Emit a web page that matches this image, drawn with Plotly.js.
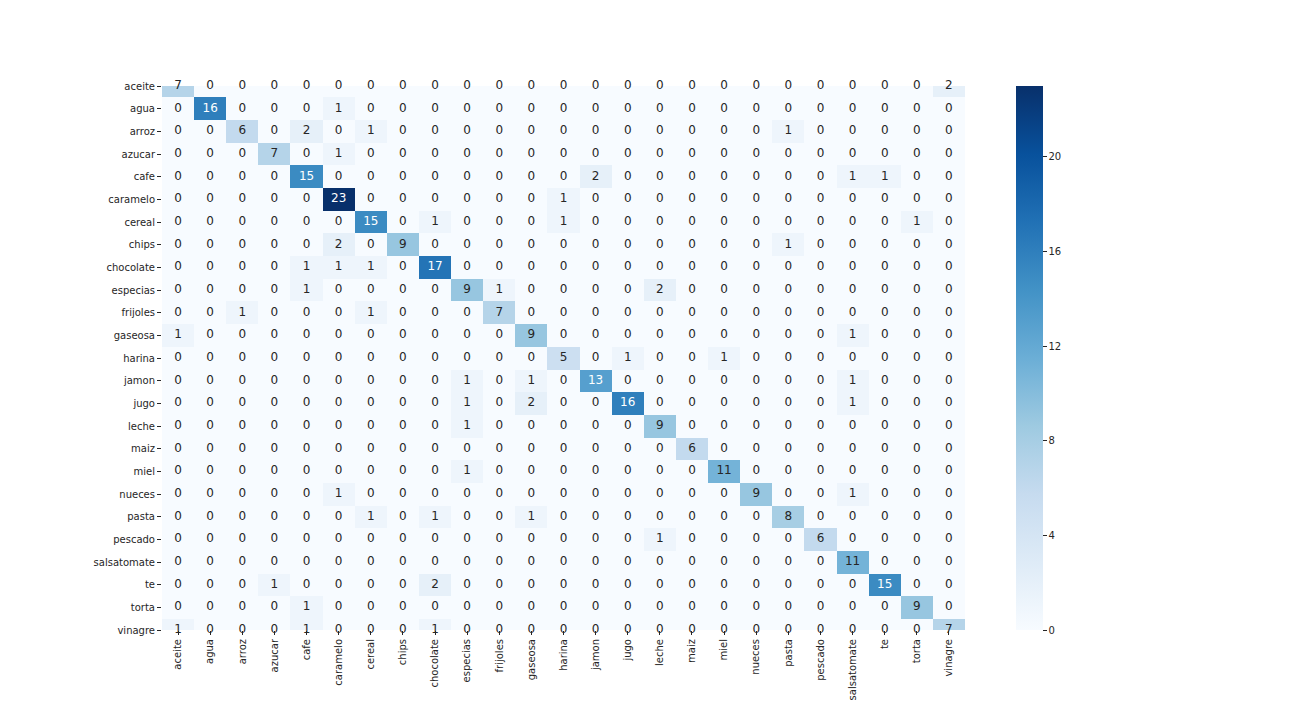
<!DOCTYPE html>
<html>
<head>
<meta charset="utf-8">
<script src="https://cdn.plot.ly/plotly-3.0.1.min.js"></script>
<style>html,body{margin:0;padding:0;background:#fff;}</style>
</head>
<body>
<div id="chart" style="width:1296px;height:720px;"></div>
<script>
const categories = ["aceite","agua","arroz","azucar","cafe","caramelo","cereal","chips","chocolate","especias","frijoles","gaseosa","harina","jamon","jugo","leche","maiz","miel","nueces","pasta","pescado","salsatomate","te","torta","vinagre"];

const row_aceite      = [7,0,0,0,0,0,0,0,0,0,0,0,0,0,0,0,0,0,0,0,0,0,0,0,2];
const row_agua        = [0,16,0,0,0,1,0,0,0,0,0,0,0,0,0,0,0,0,0,0,0,0,0,0,0];
const row_arroz       = [0,0,6,0,2,0,1,0,0,0,0,0,0,0,0,0,0,0,0,1,0,0,0,0,0];
const row_azucar      = [0,0,0,7,0,1,0,0,0,0,0,0,0,0,0,0,0,0,0,0,0,0,0,0,0];
const row_cafe        = [0,0,0,0,15,0,0,0,0,0,0,0,0,2,0,0,0,0,0,0,0,1,1,0,0];
const row_caramelo    = [0,0,0,0,0,23,0,0,0,0,0,0,1,0,0,0,0,0,0,0,0,0,0,0,0];
const row_cereal      = [0,0,0,0,0,0,15,0,1,0,0,0,1,0,0,0,0,0,0,0,0,0,0,1,0];
const row_chips       = [0,0,0,0,0,2,0,9,0,0,0,0,0,0,0,0,0,0,0,1,0,0,0,0,0];
const row_chocolate   = [0,0,0,0,1,1,1,0,17,0,0,0,0,0,0,0,0,0,0,0,0,0,0,0,0];
const row_especias    = [0,0,0,0,1,0,0,0,0,9,1,0,0,0,0,2,0,0,0,0,0,0,0,0,0];
const row_frijoles    = [0,0,1,0,0,0,1,0,0,0,7,0,0,0,0,0,0,0,0,0,0,0,0,0,0];
const row_gaseosa     = [1,0,0,0,0,0,0,0,0,0,0,9,0,0,0,0,0,0,0,0,0,1,0,0,0];
const row_harina      = [0,0,0,0,0,0,0,0,0,0,0,0,5,0,1,0,0,1,0,0,0,0,0,0,0];
const row_jamon       = [0,0,0,0,0,0,0,0,0,1,0,1,0,13,0,0,0,0,0,0,0,1,0,0,0];
const row_jugo        = [0,0,0,0,0,0,0,0,0,1,0,2,0,0,16,0,0,0,0,0,0,1,0,0,0];
const row_leche       = [0,0,0,0,0,0,0,0,0,1,0,0,0,0,0,9,0,0,0,0,0,0,0,0,0];
const row_maiz        = [0,0,0,0,0,0,0,0,0,0,0,0,0,0,0,0,6,0,0,0,0,0,0,0,0];
const row_miel        = [0,0,0,0,0,0,0,0,0,1,0,0,0,0,0,0,0,11,0,0,0,0,0,0,0];
const row_nueces      = [0,0,0,0,0,1,0,0,0,0,0,0,0,0,0,0,0,0,9,0,0,1,0,0,0];
const row_pasta       = [0,0,0,0,0,0,1,0,1,0,0,1,0,0,0,0,0,0,0,8,0,0,0,0,0];
const row_pescado     = [0,0,0,0,0,0,0,0,0,0,0,0,0,0,0,1,0,0,0,0,6,0,0,0,0];
const row_salsatomate = [0,0,0,0,0,0,0,0,0,0,0,0,0,0,0,0,0,0,0,0,0,11,0,0,0];
const row_te          = [0,0,0,1,0,0,0,0,2,0,0,0,0,0,0,0,0,0,0,0,0,0,15,0,0];
const row_torta       = [0,0,0,0,1,0,0,0,0,0,0,0,0,0,0,0,0,0,0,0,0,0,0,9,0];
const row_vinagre     = [1,0,0,0,1,0,0,0,1,0,0,0,0,0,0,0,0,0,0,0,0,0,0,0,7];

const matrix = [row_aceite,row_agua,row_arroz,row_azucar,row_cafe,row_caramelo,row_cereal,row_chips,row_chocolate,row_especias,row_frijoles,row_gaseosa,row_harina,row_jamon,row_jugo,row_leche,row_maiz,row_miel,row_nueces,row_pasta,row_pescado,row_salsatomate,row_te,row_torta,row_vinagre];

const colorbarTicks = [0,4,8,12,16,20];

// matplotlib "Blues"
const blues = [
  [0.0,'#f7fbff'],[0.125,'#deebf7'],[0.25,'#c6dbef'],[0.375,'#9ecae1'],
  [0.5,'#6baed6'],[0.625,'#4292c6'],[0.75,'#2171b5'],[0.875,'#08519c'],[1.0,'#08306b']
];

let zmax = 0;
matrix.forEach(r => r.forEach(v => { if (v > zmax) zmax = v; }));

const tx = [], ty = [], tt = [], tc = [];
matrix.forEach((r, i) => r.forEach((v, j) => {
  tx.push(categories[j]); ty.push(categories[i]); tt.push(String(v));
  tc.push(v / zmax > 0.52 ? '#ffffff' : '#262626');
}));

const heat = {
  type: 'heatmap',
  x: categories, y: categories, z: matrix,
  colorscale: blues, zmin: 0, zmax: zmax,
  hoverinfo: 'skip',
  colorbar: {
    x: 1.0635, xanchor: 'left', xpad: 0,
    y: 0.5, yanchor: 'middle', len: 1, lenmode: 'fraction', ypad: 0,
    thickness: 27, outlinewidth: 0,
    tickvals: colorbarTicks, ticks: 'outside', ticklen: 4, tickcolor: '#262626',
    tickfont: {family: 'DejaVu Sans', size: 10, color: '#262626'}
  }
};

const labels = {
  type: 'scatter', mode: 'text',
  x: tx, y: ty, text: tt,
  textfont: {family: 'DejaVu Sans', size: 12, color: tc},
  cliponaxis: false, hoverinfo: 'skip', showlegend: false
};

const layout = {
  width: 1296, height: 720,
  margin: {l: 162, r: 331, t: 86, b: 90},
  paper_bgcolor: '#ffffff', plot_bgcolor: '#ffffff',
  showlegend: false,
  xaxis: {
    type: 'category', range: [-0.5, 24.5],
    showgrid: false, zeroline: false, showline: false,
    ticks: 'outside', ticklen: 4, tickcolor: '#262626', tickangle: -90,
    tickfont: {family: 'DejaVu Sans', size: 10, color: '#262626'}
  },
  yaxis: {
    type: 'category', range: [24, 0],
    showgrid: false, zeroline: false, showline: false,
    ticks: 'outside', ticklen: 4, tickcolor: '#262626',
    tickfont: {family: 'DejaVu Sans', size: 10, color: '#262626'}
  }
};

Plotly.newPlot('chart', [heat, labels], layout, {displayModeBar: false, staticPlot: true});
</script>
</body>
</html>
